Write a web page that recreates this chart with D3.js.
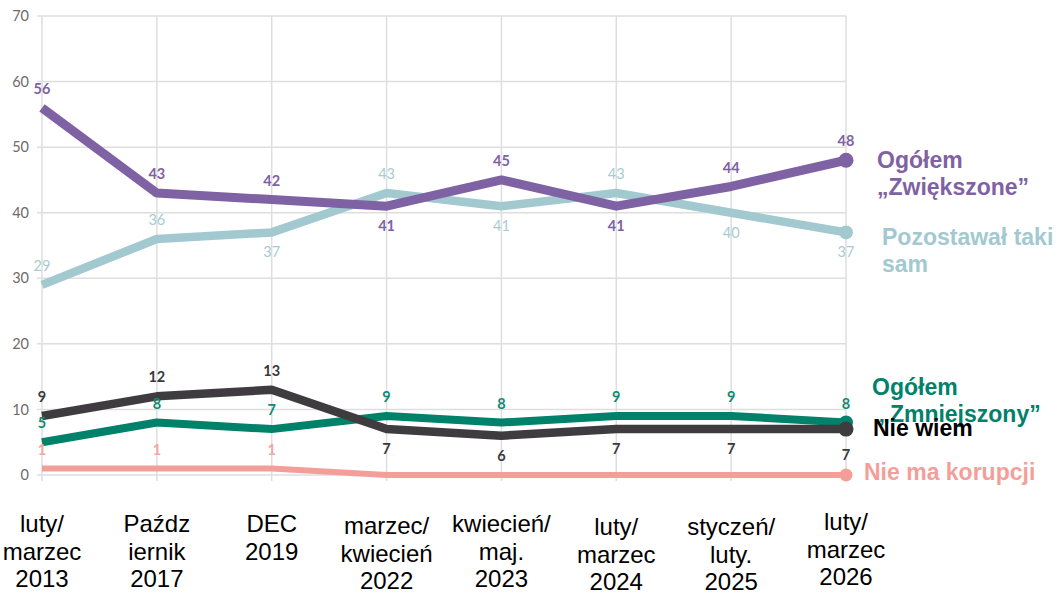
<!DOCTYPE html>
<html>
<head>
<meta charset="utf-8">
<script src="https://cdn.jsdelivr.net/npm/d3@7"></script>
<style>
  body { margin: 0; background: #fff; }
  svg { display: block; }
</style>
</head>
<body>
<script>
var w = 1061;
var h = 596;

// data
var categories = ["luty/|marzec|2013", "Paźdz|iernik|2017", "DEC|2019", "marzec/|kwiecień|2022",
    "kwiecień/|maj.|2023", "luty/|marzec|2024", "styczeń/|luty.|2025", "luty/|marzec|2026"];
var yTicks = [0, 10, 20, 30, 40, 50, 60, 70];

var zwiekszone = [56, 43, 42, 41, 45, 41, 44, 48];
var takiSam = [29, 36, 37, 43, 41, 43, 40, 37];
var zmniejszony = [5, 8, 7, 9, 8, 9, 9, 8];
var nieWiem = [9, 12, 13, 7, 6, 7, 7, 7];
var nieMaKorupcji = [1, 1, 1, 0, 0, 0, 0, 0];

// where each value label sits: a = above, b = below, "" = none
var zwiekszonePos = ["a", "a", "a", "b", "a", "b", "a", "a"];
var takiSamPos = ["a", "a", "b", "a", "b", "a", "b", "b"];
var zmniejszonyPos = ["a", "a", "a", "a", "a", "a", "a", "a"];
var nieWiemPos = ["a", "a", "a", "b", "b", "b", "b", "b"];
var nieMaPos = ["a", "a", "a", "", "", "", "", ""];

var series = [
    { name: ["Nie ma korupcji"], values: nieMaKorupcji, pos: nieMaPos, color: "#f49e9a", label: "#f4a6a2", width: 6, r: 6.5, lx: 864, ly: 472 },
    { name: ["Ogółem", " „Zmniejszony”"], values: zmniejszony, pos: zmniejszonyPos, color: "#00816a", label: "#0f8a73", width: 8, r: 7, lx: 872, ly: 387 },
    { name: ["Nie wiem"], values: nieWiem, pos: nieWiemPos, color: "#3e3c3f", label: "#3a393b", width: 8.5, r: 7.5, lx: 873, ly: 428, black: true, lastOff: 26 },
    { name: ["Pozostawał taki", "sam"], values: takiSam, pos: takiSamPos, color: "#a3c9d0", label: "#a7cbd2", width: 8.5, r: 7, lx: 882, ly: 237, light: true },
    { name: ["Ogółem", "„Zwiększone”"], values: zwiekszone, pos: zwiekszonePos, color: "#7f62a3", label: "#7f62a3", width: 9, r: 7.5, lx: 877, ly: 160 }
];

var svg = d3.select("body").append("svg").attr("width", w).attr("height", h);

var x = d3.scalePoint().domain(d3.range(categories.length)).range([42, 846]);
var y = d3.scaleLinear().domain([0, 70]).range([475, 16]);

// grid
svg.append("g").selectAll("line")
    .data(yTicks)
    .enter().append("line")
    .attr("x1", 37).attr("x2", 846)
    .attr("y1", d => y(d)).attr("y2", d => y(d))
    .attr("stroke", "#dedede").attr("stroke-width", 1.5);

svg.append("g").selectAll("line")
    .data(d3.range(categories.length))
    .enter().append("line")
    .attr("x1", d => x(d)).attr("x2", d => x(d))
    .attr("y1", y(70)).attr("y2", y(0) + 6)
    .attr("stroke", "#dedede").attr("stroke-width", 1.5);

svg.append("g").selectAll("text")
    .data(yTicks)
    .enter().append("text")
    .attr("x", 29).attr("y", d => y(d))
    .attr("dy", "0.35em")
    .attr("text-anchor", "end")
    .attr("font-family", "Lato, sans-serif")
    .attr("font-size", 14.5)
    .attr("fill", "#6e6a6a")
    .text(d => d);

// category labels
var catShift = [0, 0, 0, 2, 0, 3, 3, -2];
svg.append("g").selectAll("text")
    .data(categories)
    .enter().append("text")
    .attr("text-anchor", "middle")
    .attr("font-family", "Liberation Sans, Arial, sans-serif")
    .attr("font-size", 24)
    .attr("fill", "#000")
    .each(function (d, i) {
        var t = d3.select(this);
        d.split("|").forEach(function (s, k) {
            t.append("tspan")
                .attr("x", x(i))
                .attr("y", 532 + catShift[i] + k * 27.5)
                .text(s);
        });
    });

var line = d3.line()
    .x((d, i) => x(i))
    .y(d => y(d));

series.forEach(function (s) {
    var g = svg.append("g");
    g.append("path")
        .attr("d", line(s.values))
        .attr("fill", "none")
        .attr("stroke", s.color)
        .attr("stroke-width", s.width)
        .attr("stroke-linejoin", "round");

    var last = s.values.length - 1;
    g.append("circle")
        .attr("cx", x(last)).attr("cy", y(s.values[last]))
        .attr("r", s.r)
        .attr("fill", s.color);
});

// value labels
series.forEach(function (s) {
    var g = svg.append("g");
    s.values.forEach(function (v, i) {
        if (s.pos[i] === "") return;
        var off = s.pos[i] === "a" ? -19 : 20;
        if (s.lastOff && i === s.values.length - 1) off = s.lastOff;
        g.append("text")
            .attr("x", x(i))
            .attr("y", y(v) + off)
            .attr("dy", "0.35em")
            .attr("text-anchor", "middle")
            .attr("font-family", "Lato, sans-serif")
            .attr("font-weight", s.light ? 400 : 700)
            .attr("font-size", 14.5)
            .attr("fill", s.label)
            .text(v);
    });
});

// legend labels at the right
series.forEach(function (s) {
    var t = svg.append("text")
        .attr("font-family", "Liberation Sans, Arial, sans-serif")
        .attr("font-weight", 700)
        .attr("font-size", 23)
        .attr("fill", s.black ? "#000" : s.color);
    s.name.forEach(function (n, k) {
        t.append("tspan")
            .attr("x", s.lx)
            .attr("y", s.ly + 8 + k * 27)
            .text(n);
    });
});
</script>
</body>
</html>
